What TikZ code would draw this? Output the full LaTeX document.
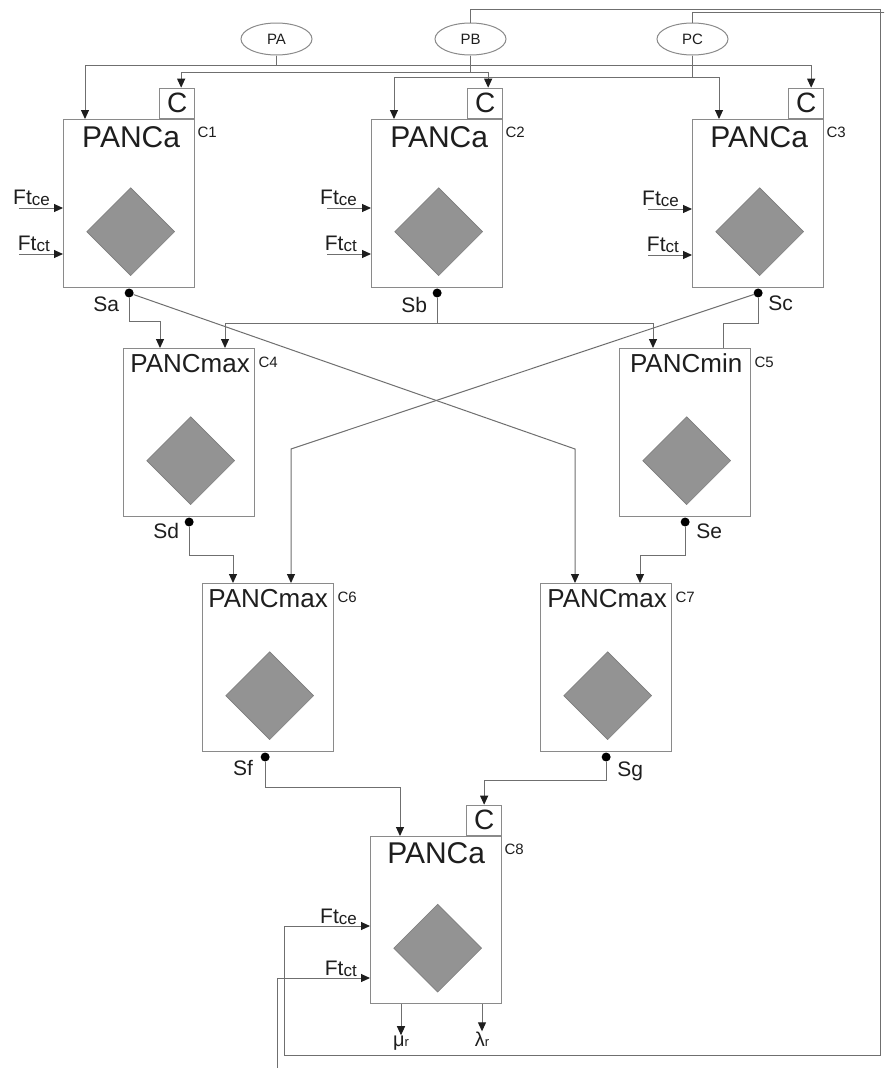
\documentclass[tikz,border=0pt]{standalone}
\usepackage{fontspec}
\setmainfont{Liberation Sans}
\usepackage{tikz}
\usetikzlibrary{arrows.meta,calc,positioning,shapes.geometric}
\definecolor{boxgray}{HTML}{8A8A8A}
\definecolor{wirec}{HTML}{6F6F6F}
\definecolor{gemgray}{HTML}{939393}
\definecolor{gemedge}{HTML}{7D7D7D}
\definecolor{ink}{HTML}{1E1E1E}
\newcommand{\ftsub}[1]{Ft\raisebox{-1.5pt}{\fontsize{17}{17}\selectfont #1}}

\begin{document}
\begin{tikzpicture}[x=1pt, y=-1pt, every node/.style={text=ink, inner sep=0pt},
  panc/.style={draw=boxgray, line width=1.3pt, minimum width=131pt, minimum height=168pt, anchor=north west},
  cbox/.style={draw=boxgray, line width=1.3pt, minimum width=35pt, minimum height=30pt, anchor=south east, font=\fontsize{28}{28}\selectfont},
  gem/.style={diamond, draw=gemedge, fill=gemgray, line width=0.6pt, minimum width=88pt, minimum height=88pt},
  ttl/.style={anchor=base, font=\fontsize{#1}{#1}\selectfont},
  tag/.style={font=\fontsize{15}{15}\selectfont},
  ell/.style={ellipse, draw=boxgray, line width=1pt, minimum width=71pt, minimum height=32pt, font=\fontsize{15}{15}\selectfont},
  dot/.style={circle, fill=black, minimum size=9pt},
  sig/.style={font=\fontsize{21}{21}\selectfont},
  outl/.style={anchor=base, font=\fontsize{20}{20}\selectfont},
  wire/.style={draw=wirec, line width=1pt},
  arr/.style={wire, -{Triangle[length=9pt,width=8pt,color=ink]}}]
  \useasboundingbox[fill=white] (0,0) rectangle (884,1068);

  % parameters
  \node[ell] (pa) at (276.5,39) {PA};
  \node[ell] (pb) at (470.5,39) {PB};
  \node[ell] (pc) at (692.5,39) {PC};

  % first row
  \node[panc] (c1) at (63,119) {};
  \node[panc] (c2) at (371,119) {};
  \node[panc] (c3) at (692,119) {};
  \node[cbox] (c1c) at (c1.north east) {C};
  \node[cbox] (c2c) at (c2.north east) {C};
  \node[cbox] (c3c) at (c3.north east) {C};
  \node[ttl=30] (t1) at ($(c1.north)+(2,28)$) {PANCa};
  \node[ttl=30] (t2) at ($(c2.north)+(2,28)$) {PANCa};
  \node[ttl=30] (t3) at ($(c3.north)+(1,28)$) {PANCa};
  \node[tag, below right=8pt and 2pt of c1.north east] (k1) {C1};
  \node[tag, below right=8pt and 2pt of c2.north east] (k2) {C2};
  \node[tag, below right=8pt and 2pt of c3.north east] (k3) {C3};
  \node[gem] (g1) at ($(c1.center)+(1.5,28)$) {};
  \node[gem] (g2) at ($(c2.center)+(1.5,28)$) {};
  \node[gem] (g3) at ($(c3.center)+(1.5,28)$) {};

  % second and third rows
  \node[panc] (c4) at (123,348) {};
  \node[panc] (c5) at (619,348) {};
  \node[panc] (c6) at (202,583) {};
  \node[panc] (c7) at (540,583) {};
  \node[ttl=26] (t4) at ($(c4.north)+(1,24)$) {PANCmax};
  \node[ttl=26] (t5) at ($(c5.north)+(1,24)$) {PANCmin};
  \node[ttl=26] (t6) at ($(c6.north)+(0,24)$) {PANCmax};
  \node[ttl=26] (t7) at ($(c7.north)+(1,24)$) {PANCmax};
  \node[tag, below right=9pt and 3pt of c4.north east] (k4) {C4};
  \node[tag, below right=9pt and 3pt of c5.north east] (k5) {C5};
  \node[tag, below right=9pt and 3pt of c6.north east] (k6) {C6};
  \node[tag, below right=9pt and 3pt of c7.north east] (k7) {C7};
  \node[gem] (g4) at ($(c4.center)+(1.5,28)$) {};
  \node[gem] (g5) at ($(c5.center)+(1.5,28)$) {};
  \node[gem] (g6) at ($(c6.center)+(1.5,28)$) {};
  \node[gem] (g7) at ($(c7.center)+(1.5,28)$) {};

  % last block
  \node[panc, minimum height=167pt] (c8) at (370,836) {};
  \node[cbox] (c8c) at (c8.north east) {C};
  \node[ttl=30] (t8) at ($(c8.north)+(0,27)$) {PANCa};
  \node[tag, below right=8pt and 2pt of c8.north east] (k8) {C8};
  \node[gem] (g8) at ($(c8.center)+(1.5,28)$) {};

  % outputs
  \node[dot, below=0pt of c1.south] (sa) {};
  \node[dot, below=0pt of c2.south] (sb) {};
  \node[dot, below=0pt of c3.south] (sc) {};
  \node[dot, below=0pt of c4.south] (sd) {};
  \node[dot, below=0pt of c5.south] (se) {};
  \node[dot, below=0pt of c6.south, xshift=-3pt] (sf) {};
  \node[dot, below=0pt of c7.south] (sg) {};
  \node[sig, anchor=base east] (lsa) at ($(sa)+(-10,18)$) {Sa};
  \node[sig, anchor=base east] (lsb) at ($(sb)+(-10,19)$) {Sb};
  \node[sig, anchor=base west] (lsc) at ($(sc)+(10,17)$) {Sc};
  \node[sig, anchor=base east] (lsd) at ($(sd)+(-10,16)$) {Sd};
  \node[sig, anchor=base west] (lse) at ($(se)+(11,16)$) {Se};
  \node[sig, anchor=base east] (lsf) at ($(sf)+(-12,18)$) {Sf};
  \node[sig, anchor=base west] (lsg) at ($(sg)+(11,19)$) {Sg};
  \node[outl] (mur) at (401,1046) {μ{\fontsize{13}{13}\selectfont r}};
  \node[outl] (lamr) at (482,1046) {λ{\fontsize{13}{13}\selectfont r}};

  % fault inputs
  \coordinate (c1fe) at ($(c1.north west)+(-44,89)$);
  \coordinate (c1ft) at ($(c1.north west)+(-44,135)$);
  \coordinate (c2fe) at ($(c2.north west)+(-44,89)$);
  \coordinate (c2ft) at ($(c2.north west)+(-44,135)$);
  \coordinate (c3fe) at ($(c3.north west)+(-44,90)$);
  \coordinate (c3ft) at ($(c3.north west)+(-44,136)$);
  \coordinate (c8fe) at ($(c8.north west)+(-86,90)$);
  \coordinate (c8ft) at ($(c8.north west)+(-93,142)$);
  \node[sig, anchor=base east] (f1e) at ($(c1.north west)+(-13,85)$) {\ftsub{ce}};
  \node[sig, anchor=base east] (f1t) at ($(c1.north west)+(-13,131)$) {\ftsub{ct}};
  \node[sig, anchor=base east] (f2e) at ($(c2.north west)+(-14,85)$) {\ftsub{ce}};
  \node[sig, anchor=base east] (f2t) at ($(c2.north west)+(-14,131)$) {\ftsub{ct}};
  \node[sig, anchor=base east] (f3e) at ($(c3.north west)+(-13,86)$) {\ftsub{ce}};
  \node[sig, anchor=base east] (f3t) at ($(c3.north west)+(-13,132)$) {\ftsub{ct}};
  \node[sig, anchor=base east] (f8e) at ($(c8.north west)+(-13,87)$) {\ftsub{ce}};
  \node[sig, anchor=base east] (f8t) at ($(c8.north west)+(-13,139)$) {\ftsub{ct}};
  \draw[arr] (c1fe) -- (c1fe -| c1.west);
  \draw[arr] (c1ft) -- (c1ft -| c1.west);
  \draw[arr] (c2fe) -- (c2fe -| c2.west);
  \draw[arr] (c2ft) -- (c2ft -| c2.west);
  \draw[arr] (c3fe) -- (c3fe -| c3.west);
  \draw[arr] (c3ft) -- (c3ft -| c3.west);

  % parameter wiring
  \draw[arr] (pa.south) -- ++(0,10) -| ($(c1.north west)+(22,0)$);
  \draw[arr] (pa.south) -- ++(0,10) -| ($(c3c.north)+(5,0)$);
  \draw[arr] (pb.south) -- ++(0,17) -| ($(c1c.north)+(4,0)$);
  \draw[arr] (pb.south) -- ++(0,17) -| ($(c2c.north)+(3,0)$);
  \draw[arr] (pc.south) -- ++(0,22) -| ($(c2.north west)+(23,0)$);
  \draw[arr] (pc.south) -- ++(0,22) -| ($(c3.north west)+(27,0)$);

  % feedback to C8
  \draw[arr] (pb.north) -- ++(0,-13) -| (880,1055) -| (c8fe) -- (c8fe -| c8.west);
  \begin{scope}
    \clip (0,0) rectangle (884,1068);
    \draw[arr] (pc.north) -- ++(0,-10) -| (900,1090) -| (c8ft) -- (c8ft -| c8.west);
  \end{scope}

  % signal wiring
  \draw[arr] (sa) -- ++(0,28) -| ($(c4.north west)+(37,0)$);
  \draw[arr] (sb) -- ++(0,30) -| ($(c4.north west)+(102,0)$);
  \draw[arr] (sb) -- ++(0,30) -| ($(c5.north west)+(34,0)$);
  \draw[wire] (sc) -- ++(0,30) -| ($(c5.north west)+(104,0)$);
  \draw[arr] (sa) -- ($(c7.north west)+(35,-134)$) -- ++(0,134);
  \draw[arr] (sc) -- ($(c6.north west)+(89,-134)$) -- ++(0,134);
  \draw[arr] (sd) -- ++(0,33) -| ($(c6.north west)+(31,0)$);
  \draw[arr] (se) -- ++(0,33) -| ($(c7.north west)+(100,0)$);
  \draw[arr] (sf) -- ++(0,30) -| ($(c8.north west)+(30,0)$);
  \draw[arr] (sg) -- ++(0,23) -| (c8c.north);
  \draw[arr] (mur |- c8.south) -- (mur.north);
  \draw[arr] (lamr |- c8.south) -- (lamr.north);
\end{tikzpicture}
\end{document}
